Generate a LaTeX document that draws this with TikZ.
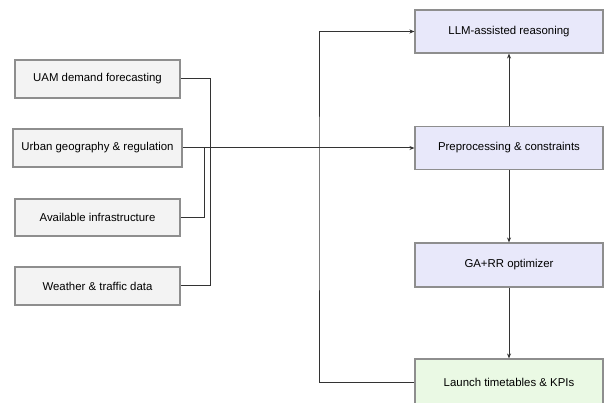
\documentclass[tikz,border=0pt]{standalone}
\usepackage{fontspec}
\setmainfont{Liberation Sans}
\usetikzlibrary{arrows.meta}
\definecolor{inputfill}{HTML}{F3F3F3}
\definecolor{procfill}{HTML}{E8E8FA}
\definecolor{outfill}{HTML}{EAF9E4}
\definecolor{boxline}{HTML}{8E8E8E}
\definecolor{wire}{HTML}{333333}
\tikzset{
  box/.style={draw=boxline, line width=1.1pt, font=\fontsize{11.4}{13}\selectfont, inner sep=0pt},
  inbox/.style={box, fill=inputfill, minimum width=165pt, minimum height=38pt},
  procbox/.style={box, fill=procfill, minimum width=188pt, minimum height=43pt},
  outbox/.style={box, fill=outfill, minimum width=188pt, minimum height=46pt},
  link/.style={draw=wire, line width=1pt},
  arr/.style={link, -{Stealth[length=5pt,width=4pt]}}
}
\begin{document}
\begin{tikzpicture}[x=1pt,y=-1pt]
\useasboundingbox (0,0) rectangle (605,403);
\clip (0,0) rectangle (605,403);
\fill[white] (0,0) rectangle (605,403);

% input data sources
\node[inbox] (uam) at (97.5,79) {UAM demand forecasting};
\node[inbox, minimum width=169pt] (urban) at (97.5,148) {Urban geography \& regulation};
\node[inbox, minimum height=37pt] (avail) at (97.5,217.5) {Available infrastructure};
\node[inbox] (weather) at (97.5,286) {Weather \& traffic data};

% processing chain
\node[procbox] (llm) at (509,31.5) {LLM-assisted reasoning};
\node[procbox] (prep) at (509,148) {Preprocessing \& constraints};
\node[procbox, minimum height=44pt] (ga) at (509,265) {GA+RR optimizer};
\node[outbox] (launch) at (509,382) {Launch timetables \& KPIs};

% junction points on the input bus
\coordinate (ja) at (210,79);
\coordinate (jb) at (204,148);
\coordinate (fb) at (319,200);

\draw[link] (uam.east) -- (ja) |- (weather.east);
\draw[link] (avail.east) -| (jb);
\draw[arr] (urban.east) -- (prep.west);

\draw[arr] (prep.north) -- (llm.south);
\draw[arr] (prep.south) -- (ga.north);
\draw[arr] (ga.south) -- (launch.north);

% feedback loop from outputs to reasoning
\draw[arr] (launch.west) -| (fb) |- (llm.west);
\end{tikzpicture}
\end{document}
